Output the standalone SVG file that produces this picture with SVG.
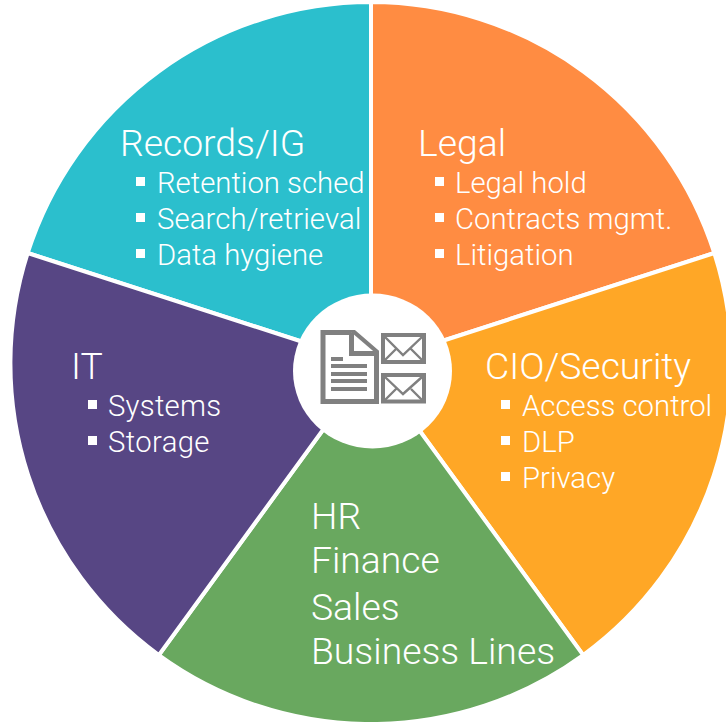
<svg xmlns="http://www.w3.org/2000/svg" width="726" height="722" viewBox="0 0 726 722">
<style>
.seg{stroke:#fff;stroke-width:4;stroke-linejoin:miter}
text{font-family:Roboto,"Liberation Sans",sans-serif;font-weight:300;fill:#fff}
.t{font-size:37.3px}
.b{font-size:29.3px}
.bu{fill:#fff}
.ic{fill:#fff;stroke:#808080}
.ln{fill:#808080}
.env{fill:none;stroke:#808080;stroke-width:2.4}
</style>
<rect width="726" height="722" fill="#fff"/>
<g id="records">
<path class="seg" d="M371 364L27.700 253A361 361 0 0 1 371 2Z" fill="#2BBFCD"/>
<text class="t" x="120" y="156">Records/IG</text>
<rect class="bu" x="136" y="177" width="9" height="9"/><text class="b" x="157" y="193">Retention sched</text>
<rect class="bu" x="136" y="213" width="9" height="9"/><text class="b" x="157" y="229" letter-spacing="0.13">Search/retrieval</text>
<rect class="bu" x="136" y="249" width="9" height="9"/><text class="b" x="157" y="265">Data hygiene</text>
</g>
<g id="legal">
<path class="seg" d="M371 364L371 2A361 361 0 0 1 714.300 253Z" fill="#FF8C42"/>
<text class="t" x="418" y="156">Legal</text>
<rect class="bu" x="435" y="177" width="9" height="9"/><text class="b" x="455" y="193">Legal hold</text>
<rect class="bu" x="435" y="213" width="9" height="9"/><text class="b" x="455" y="229">Contracts mgmt.</text>
<rect class="bu" x="435" y="249" width="9" height="9"/><text class="b" x="455" y="265">Litigation</text>
</g>
<g id="cio">
<path class="seg" d="M371 364L714.300 253A361 361 0 0 1 583.200 655.100Z" fill="#FFA726"/>
<text class="t" x="485" y="379">CIO/Security</text>
<rect class="bu" x="501" y="400" width="9" height="9"/><text class="b" x="522" y="416">Access control</text>
<rect class="bu" x="501" y="436" width="9" height="9"/><text class="b" x="522" y="452">DLP</text>
<rect class="bu" x="501" y="472" width="9" height="9"/><text class="b" x="522" y="488">Privacy</text>
</g>
<g id="hr">
<path class="seg" d="M371 364L583.200 655.100A361 361 0 0 1 158.800 655.100Z" fill="#69A85F"/>
<text class="t" x="311" y="529">HR</text>
<text class="t" x="311" y="573">Finance</text>
<text class="t" x="311" y="620">Sales</text>
<text class="t" x="311" y="664">Business Lines</text>
</g>
<g id="it">
<path class="seg" d="M371 364L158.800 655.100A361 361 0 0 1 27.700 253Z" fill="#574684"/>
<text class="t" x="71" y="379">IT</text>
<rect class="bu" x="88" y="400" width="9" height="9"/><text class="b" x="108" y="416" letter-spacing="0.25">Systems</text>
<rect class="bu" x="88" y="436" width="9" height="9"/><text class="b" x="108" y="452" letter-spacing="0.35">Storage</text>
</g>
<g id="hub">
<ellipse cx="372.500" cy="371" rx="79.500" ry="77.500" fill="#fff"/>
<path class="ic" stroke-width="5" d="M323 332.500H354L376.500 352V401.500H323Z"/>
<path class="ic" stroke-width="5" d="M351.500 332.500V353.500H376"/>
<rect class="ln" x="331" y="357" width="12" height="4"/>
<rect class="ln" x="331" y="364" width="36" height="4"/>
<rect class="ln" x="331" y="372" width="36" height="4"/>
<rect class="ln" x="331" y="379" width="36" height="4"/>
<rect class="ln" x="331" y="387" width="36" height="4"/>
<rect class="ic" stroke-width="4" x="383" y="335" width="41" height="27"/>
<path class="env" d="M385 337L403 355L422 337M385 360L396 349M422 360L411 349"/>
<rect class="ic" stroke-width="4" x="383" y="375" width="41" height="26.500"/>
<path class="env" d="M385 377L403 394L422 377M385 400L396 389M422 400L411 389"/>
</g>
</svg>
